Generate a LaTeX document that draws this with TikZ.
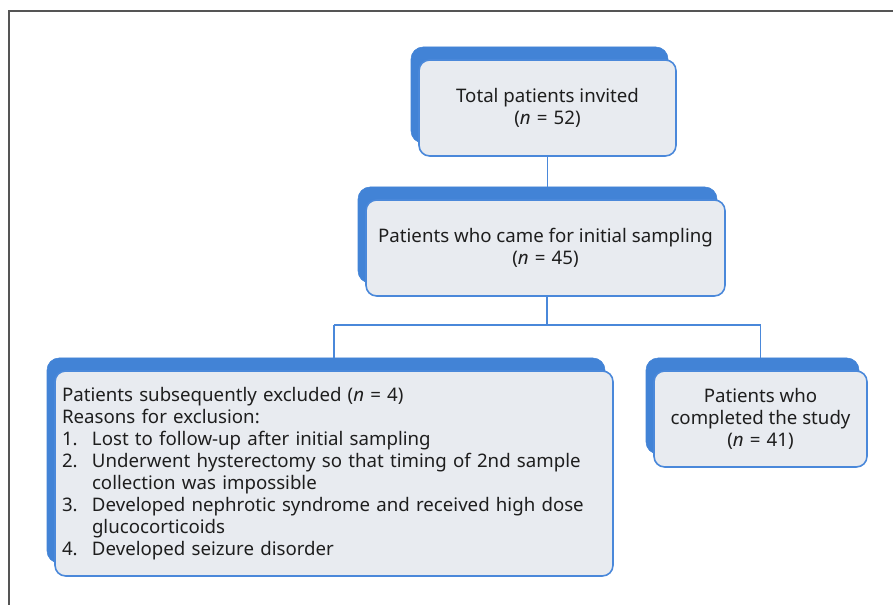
\documentclass[tikz,border=0pt]{standalone}
\usepackage{fontspec}
\setmainfont{Noto Sans}
\definecolor{backblue}{HTML}{4283D6}
\definecolor{edgeblue}{HTML}{4A88DA}
\definecolor{fillgray}{HTML}{E8EBF0}
\definecolor{txt}{HTML}{1E1E1E}
\definecolor{framegray}{HTML}{555555}
\newcommand{\eqn}[1]{\textit{n}\hspace{0.33em}=\hspace{0.33em}#1}
\begin{document}
\begin{tikzpicture}[x=0.75pt,y=-0.75pt,
  front/.style={draw=edgeblue, line width=1.2pt, fill=fillgray, rounded corners=8pt,
    text=txt, align=center, inner sep=0pt, font=\fontsize{14}{16.5}\selectfont},
  back/.style={fill=backblue, draw=backblue, rounded corners=9pt, inner sep=0pt},
  link/.style={draw=edgeblue, line width=1pt}]
\useasboundingbox (0,0) rectangle (893,605);
\draw[framegray, line width=1.2pt] (9,606) -- (9,11) -- (894,11);
% back boxes
\node[back, minimum width=192.75pt, minimum height=72pt] (k1) at (539.5,95) {};
\node[back, minimum width=269.25pt, minimum height=72pt] (k2) at (537.5,235) {};
\node[back, minimum width=418.5pt, minimum height=153.75pt] (k3) at (326,460.5) {};
\node[back, minimum width=159.75pt, minimum height=72pt] (k4) at (752.5,406) {};
% front boxes
\node[front, minimum width=192.75pt, minimum height=72pt] (b1) at (547.5,108)
  {Total patients invited\\(\eqn{52})};
\node[front, minimum width=269.25pt, minimum height=72pt] (b2) at (545.5,248)
  {Patients who came for initial sampling\\(\eqn{45})};
\node[front, align=left, text width=408pt, inner xsep=5.25pt, minimum height=153.75pt] (b3) at (334,473.5)
  {Patients subsequently excluded (\eqn{4})\\
   Reasons for exclusion:\\
   \makebox[22.5pt][l]{1.}Lost to follow-up after initial sampling\\
   \makebox[22.5pt][l]{2.}Underwent hysterectomy so that timing of 2nd sample\\
   \hspace*{22.5pt}collection was impossible\\
   \makebox[22.5pt][l]{3.}Developed nephrotic syndrome and received high dose\\
   \hspace*{22.5pt}glucocorticoids\\
   \makebox[22.5pt][l]{4.}Developed seizure disorder};
\node[front, minimum width=159.75pt, minimum height=72pt] (b4) at (760.5,419)
  {Patients who\\completed the study\\(\eqn{41})};
% connectors
\coordinate (j) at (547,325);
\draw[link] (b1.south) -- (b1.south |- k2.north);
\draw[link] (b2.south -| j) -- (j);
\draw[link] (b3.north |- j) -- (b4.north |- j);
\draw[link] (b3.north |- j) -- (b3.north |- k3.north);
\draw[link] (b4.north |- j) -- (b4.north |- k4.north);
\end{tikzpicture}
\end{document}
